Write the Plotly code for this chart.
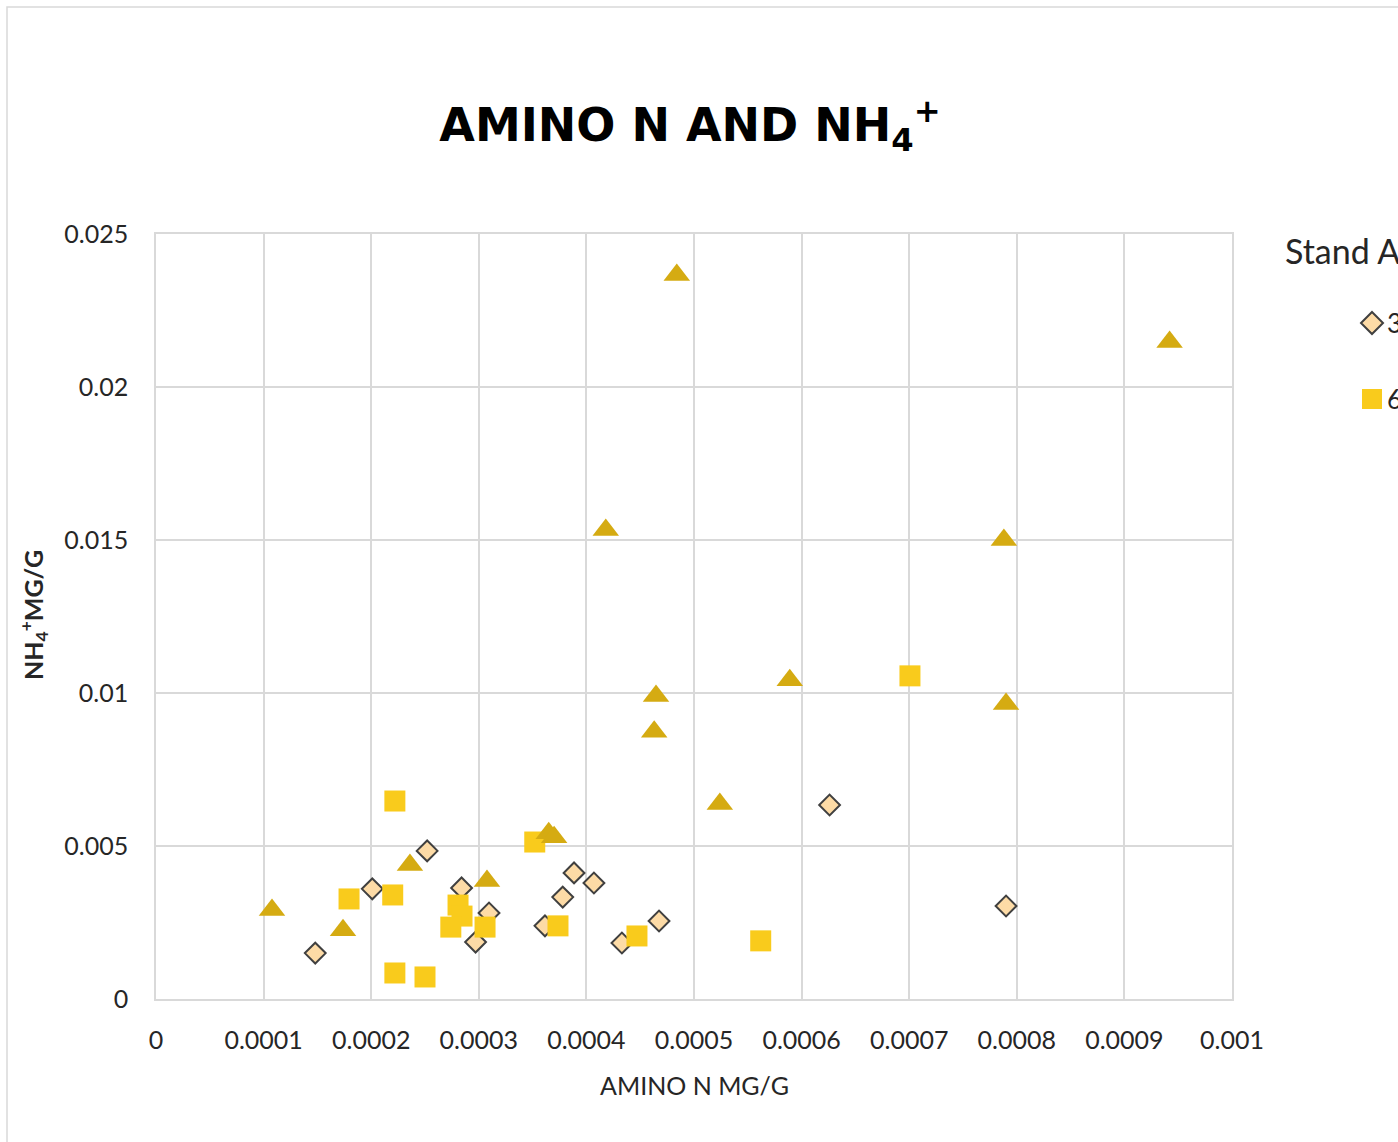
import plotly.graph_objects as go

# ---- data ----
age30_x = [0.000148, 0.000201, 0.000252, 0.000284, 0.0003095, 0.000297, 0.0003885,
           0.000407, 0.000378, 0.0003615, 0.000433, 0.0004675, 0.000626, 0.00079]
age30_y = [0.00150, 0.00360, 0.00484, 0.00363, 0.00281, 0.00186, 0.00412,
           0.00379, 0.00333, 0.00239, 0.00183, 0.00255, 0.00634, 0.00304]

age60_x = [0.000222, 0.0001794, 0.00022, 0.000222, 0.00025, 0.0002807, 0.0002844,
           0.000274, 0.0003058, 0.0003736, 0.000352, 0.000447, 0.000562, 0.0007007]
age60_y = [0.00647, 0.00327, 0.00340, 0.00085, 0.00072, 0.00307, 0.00271,
           0.00235, 0.00235, 0.00239, 0.00513, 0.00206, 0.00190, 0.01056]

age90_x = [0.000484, 0.000942, 0.000418, 0.000788, 0.000589, 0.0004647, 0.00079,
           0.000463, 0.000524, 0.000365, 0.00037, 0.000236, 0.0003076, 0.0001078, 0.0001738]
age90_y = [0.02366, 0.02147, 0.01533, 0.01500, 0.01042, 0.00990, 0.00964,
           0.00873, 0.00637, 0.00542, 0.00529, 0.00438, 0.00386, 0.00291, 0.00225]

x_tickvals = [0, 0.0001, 0.0002, 0.0003, 0.0004, 0.0005, 0.0006, 0.0007, 0.0008, 0.0009, 0.001]
x_ticktext = ["0", "0.0001", "0.0002", "0.0003", "0.0004", "0.0005", "0.0006",
              "0.0007", "0.0008", "0.0009", "0.001"]
y_tickvals = [0, 0.005, 0.01, 0.015, 0.02, 0.025]
y_ticktext = ["0", "0.005", "0.01", "0.015", "0.02", "0.025"]

series_names = ["30", "60", "90"]

# ---- figure ----
W, H = 1398, 1142
L, R, T, B = 156, 1232, 234, 999  # plot area in px
def px(x):
    return (x - L) / (R - L)
def py(y):
    return (B - y) / (B - T)

FONT = "Lato"
GRID = "#d9d9d9"
C30 = "#FDDBA6"
C60 = "#F9CB1C"
C90 = "#D5AB12"

fig = go.Figure()
fig.add_trace(go.Scatter(
    x=age30_x, y=age30_y, mode="markers", name=series_names[0], showlegend=False,
    marker=dict(symbol="diamond", size=16, color=C30, line=dict(color="#404040", width=2)),
))
fig.add_trace(go.Scatter(
    x=age60_x, y=age60_y, mode="markers", name=series_names[1], showlegend=False,
    marker=dict(symbol="square", size=21, color=C60, line=dict(width=0)),
))
fig.add_trace(go.Scatter(
    x=age90_x, y=age90_y, mode="markers", name=series_names[2], showlegend=False,
    marker=dict(symbol="triangle-up", size=23, color=C90, line=dict(width=0)),
))

fig.update_layout(
    width=W, height=H,
    margin=dict(l=L, r=W - R, t=T, b=H - B, autoexpand=False),
    paper_bgcolor="white", plot_bgcolor="white",
    font=dict(family=FONT, color="#404040"),
    title=dict(
        text="AMINO N AND NH<sub>4</sub><sup>+</sup>",
        x=690 / W, xref="container", xanchor="center",
        y=1 - 125 / H, yref="container", yanchor="middle",
        font=dict(family="DejaVu Sans", size=46, color="black", weight="bold"),
    ),
    xaxis=dict(
        range=[0, 0.001], tickvals=x_tickvals, ticktext=x_ticktext,
        showgrid=True, gridcolor=GRID, gridwidth=1.5,
        zeroline=True, zerolinecolor=GRID, zerolinewidth=1.5,
        showline=True, linecolor=GRID, linewidth=1.5, mirror=True,
        ticks="", ticklabelstandoff=18,
        tickfont=dict(family=FONT, size=25, color="#262626"),
    ),
    yaxis=dict(
        range=[0, 0.025], tickvals=y_tickvals, ticktext=y_ticktext,
        showgrid=True, gridcolor=GRID, gridwidth=1.5,
        zeroline=True, zerolinecolor=GRID, zerolinewidth=1.5,
        showline=True, linecolor=GRID, linewidth=1.5, mirror=True,
        ticks="", ticklabelstandoff=21,
        tickfont=dict(family=FONT, size=25, color="#262626"),
    ),
)

annotations = [
    dict(text="AMINO N MG/G", x=px(694), y=py(1085), xref="paper", yref="paper",
         xanchor="center", yanchor="middle", showarrow=False,
         font=dict(family=FONT, size=25, color="#262626")),
    dict(text="NH<sub>4</sub><sup>+</sup>MG/G", x=px(33), y=py(615), xref="paper", yref="paper",
         xanchor="center", yanchor="middle", showarrow=False, textangle=-90,
         font=dict(family=FONT, size=25, color="#262626", weight="bold")),
    # legend (cropped at the right edge like the reference)
    dict(text="Stand Age", x=px(1283), y=py(250), xref="paper", yref="paper",
         xanchor="left", yanchor="middle", showarrow=False,
         font=dict(family=FONT, size=34, color="#262626")),
    dict(text=series_names[0], x=px(1385), y=py(323), xref="paper", yref="paper",
         xanchor="left", yanchor="middle", showarrow=False,
         font=dict(family=FONT, size=26, color="#262626")),
    dict(text=series_names[1], x=px(1385), y=py(399), xref="paper", yref="paper",
         xanchor="left", yanchor="middle", showarrow=False,
         font=dict(family=FONT, size=26, color="#262626")),
]
fig.update_layout(annotations=annotations)

# legend glyphs
cx, cy, hd = 1372, 323, 11
diamond_path = "M {} {} L {} {} L {} {} L {} {} Z".format(
    px(cx), py(cy - hd), px(cx + hd), py(cy), px(cx), py(cy + hd), px(cx - hd), py(cy))
shapes = [
    # outer chart border (cropped on right/bottom)
    dict(type="rect", xref="paper", yref="paper", x0=px(7), y0=py(7), x1=px(1500), y1=py(1300),
         line=dict(color="#d9d9d9", width=1.5), fillcolor="rgba(0,0,0,0)", layer="below"),
    dict(type="path", xref="paper", yref="paper", path=diamond_path,
         fillcolor=C30, line=dict(color="#404040", width=2)),
    dict(type="rect", xref="paper", yref="paper", x0=px(1362), y0=py(389), x1=px(1382), y1=py(409),
         fillcolor=C60, line=dict(width=0)),
]
fig.update_layout(shapes=shapes)

fig.write_html("out.html")
